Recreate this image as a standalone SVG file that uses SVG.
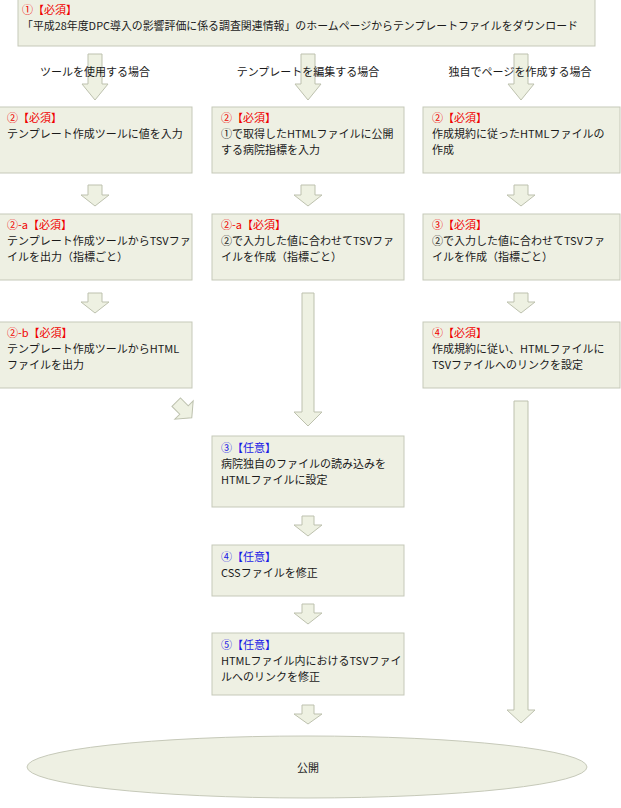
<svg xmlns="http://www.w3.org/2000/svg" width="621" height="808" viewBox="0 0 621 808">
<style>
.box{fill:#EEF0E3;stroke:#C6C9B9;stroke-width:1}
.arr{fill:#EEF1E2;stroke:#BDC1AE;stroke-width:1}
text{font-family:"Noto Sans CJK JP","Noto Sans",sans-serif;font-size:11px;fill:#1a1a1a}
.req{fill:#F00000}
.opt{fill:#1A1AE6}
.lbl{text-anchor:middle}
</style>
<rect width="621" height="808" fill="#FFFFFF"/>
<g id="connectors">
<path class="arr" d="M88 54H102V84H108L95 100L82 84H88Z"/>
<path class="arr" d="M301 54H315V84H321L308 100L295 84H301Z"/>
<path class="arr" d="M514 54H528V84H534L521 100L508 84H514Z"/>
<path class="arr" d="M88 185H102V195H109L95 206L81 195H88Z"/>
<path class="arr" d="M301 185H315V195H322L308 206L294 195H301Z"/>
<path class="arr" d="M514 185H528V195H535L521 206L507 195H514Z"/>
<path class="arr" d="M88 293H102V302H109L95 313L81 302H88Z"/>
<path class="arr" d="M514 293H528V302H535L521 313L507 302H514Z"/>
<path class="arr" d="M302 293H314V412H322L308 426L294 412H302Z"/>
<path class="arr" d="M514 401H528V710H535L521 723L507 710H514Z"/>
<path class="arr" transform="translate(184 410) rotate(-45)" d="M-6 -11H6V0H13L0 11L-13 0H-6Z"/>
<path class="arr" d="M302 516H314V525H322L308 536L294 525H302Z"/>
<path class="arr" d="M302 604H314V613H322L308 624L294 613H302Z"/>
<path class="arr" d="M302 705H314V714H322L308 724L294 714H302Z"/>
</g>
<g id="branch-labels">
<text class="lbl" x="95" y="76">ツールを使用する場合</text>
<text class="lbl" x="308" y="76">テンプレートを編集する場合</text>
<text class="lbl" x="520" y="76">独自でページを作成する場合</text>
</g>
<g id="n1">
<rect class="box" x="18" y="-1" width="577" height="47"/>
<text class="req" x="22" y="14">①【必須】</text>
<text x="22" y="30" textLength="556" lengthAdjust="spacingAndGlyphs">「平成28年度DPC導入の影響評価に係る調査関連情報」のホームページからテンプレートファイルをダウンロード</text>
</g>
<g id="tool-2">
<rect class="box" x="-1" y="107" width="193" height="66"/>
<text class="req" x="7" y="122">②【必須】</text>
<text x="7" y="138">テンプレート作成ツールに値を入力</text>
</g>
<g id="tool-2a">
<rect class="box" x="-1" y="214" width="193" height="66"/>
<text class="req" x="7" y="229">②-a【必須】</text>
<text x="7" y="245">テンプレート作成ツールからTSVファ</text>
<text x="7" y="261">イルを出力（指標ごと）</text>
</g>
<g id="tool-2b">
<rect class="box" x="-1" y="322" width="193" height="66"/>
<text class="req" x="7" y="337">②-b【必須】</text>
<text x="7" y="353">テンプレート作成ツールからHTML</text>
<text x="7" y="369">ファイルを出力</text>
</g>
<g id="tpl-2">
<rect class="box" x="212" y="107" width="192" height="66"/>
<text class="req" x="221" y="122">②【必須】</text>
<text x="221" y="138">①で取得したHTMLファイルに公開</text>
<text x="221" y="154">する病院指標を入力</text>
</g>
<g id="tpl-2a">
<rect class="box" x="212" y="214" width="192" height="66"/>
<text class="req" x="221" y="229">②-a【必須】</text>
<text x="221" y="245">②で入力した値に合わせてTSVファ</text>
<text x="221" y="261">イルを作成（指標ごと）</text>
</g>
<g id="opt-3">
<rect class="box" x="212" y="436" width="192" height="71"/>
<text class="opt" x="221" y="452">③【任意】</text>
<text x="221" y="468">病院独自のファイルの読み込みを</text>
<text x="221" y="484">HTMLファイルに設定</text>
</g>
<g id="opt-4">
<rect class="box" x="212" y="545" width="192" height="51"/>
<text class="opt" x="221" y="561">④【任意】</text>
<text x="221" y="577">CSSファイルを修正</text>
</g>
<g id="opt-5">
<rect class="box" x="212" y="633" width="192" height="62"/>
<text class="opt" x="221" y="649">⑤【任意】</text>
<text x="221" y="665">HTMLファイル内におけるTSVファイ</text>
<text x="221" y="681">ルへのリンクを修正</text>
</g>
<g id="own-2">
<rect class="box" x="423" y="107" width="197" height="66"/>
<text class="req" x="432" y="122">②【必須】</text>
<text x="432" y="138">作成規約に従ったHTMLファイルの</text>
<text x="432" y="154">作成</text>
</g>
<g id="own-3">
<rect class="box" x="423" y="214" width="197" height="66"/>
<text class="req" x="432" y="229">③【必須】</text>
<text x="432" y="245">②で入力した値に合わせてTSVファ</text>
<text x="432" y="261">イルを作成（指標ごと）</text>
</g>
<g id="own-4">
<rect class="box" x="423" y="322" width="197" height="66"/>
<text class="req" x="432" y="337">④【必須】</text>
<text x="432" y="353">作成規約に従い、HTMLファイルに</text>
<text x="432" y="369">TSVファイルへのリンクを設定</text>
</g>
<g id="publish">
<ellipse class="box" cx="307" cy="767" rx="280" ry="31"/>
<text class="lbl" x="308" y="772">公開</text>
</g>
</svg>
